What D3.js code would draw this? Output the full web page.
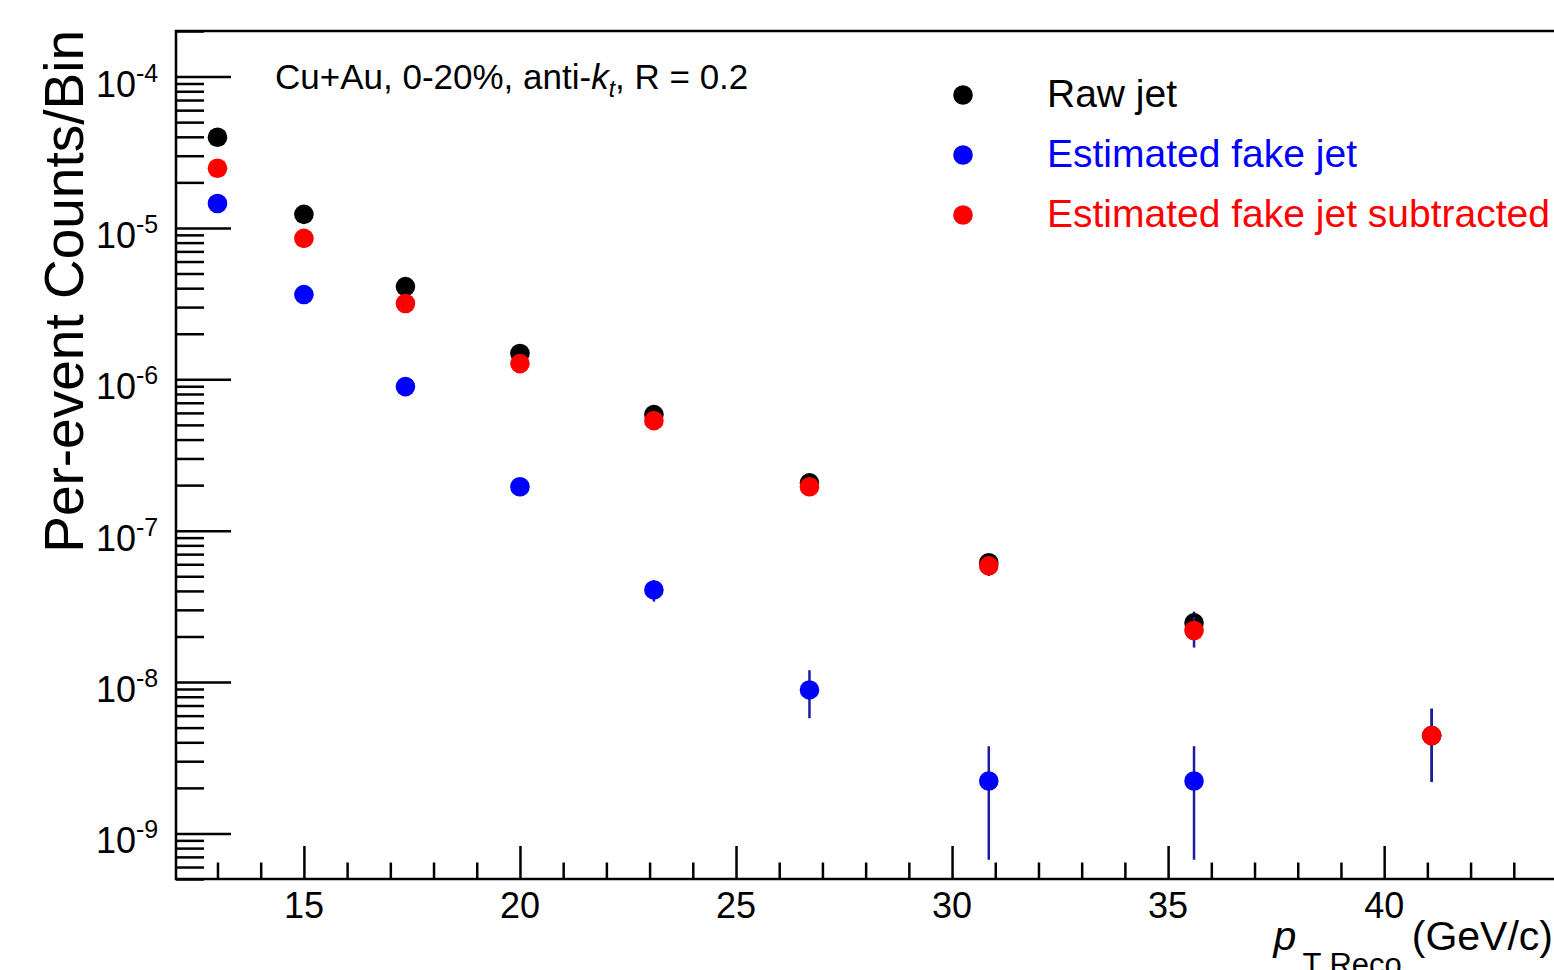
<!DOCTYPE html>
<html>
<head>
<meta charset="utf-8">
<script src="https://cdn.jsdelivr.net/npm/d3@7"></script>
<style>
  html, body { margin: 0; padding: 0; background: #fff; overflow: hidden; }
  svg { display: block; font-family: "Liberation Sans", Arial, Helvetica, sans-serif; }
</style>
</head>
<body>
<div id="chart"></div>
<script>
// bin centres (GeV/c)
const ptBins = [13.0, 15.0, 17.35, 20.0, 23.1, 26.7, 30.85, 35.6, 41.1];

// per-event counts / bin
const rawJet = [3.97e-5, 1.23e-5, 4.10e-6, 1.48e-6, 5.85e-7, 2.07e-7, 6.14e-8, 2.46e-8, 4.43e-9];
const rawJetErr = [0, 0, 0, 0, 0, 0, 8e-9, 4.6e-9, 2.24e-9];

const fakeJet = [1.45e-5, 3.63e-6, 8.95e-7, 1.95e-7, 4.06e-8, 8.87e-9, 2.22e-9, 2.22e-9];
const fakeJetErr = [0, 0, 0, 0, 6.6e-9, 3.1e-9, 1.55e-9, 1.55e-9];

const subJet = [2.48e-5, 8.53e-6, 3.17e-6, 1.27e-6, 5.33e-7, 1.95e-7, 5.86e-8, 2.19e-8, 4.43e-9];
const subJetErr = [0, 0, 0, 0, 0, 0, 8.4e-9, 5.0e-9, 2.24e-9];

const seriesNames = ["Raw jet", "Estimated fake jet", "Estimated fake jet subtracted"];
const seriesColors = ["#000000", "#0000ff", "#ff0000"];

const yMajorExp = [-9, -8, -7, -6, -5, -4];
const xMajorTicks = [15, 20, 25, 30, 35, 40];

const W = 1554, H = 970;
const frame = { left: 176, top: 31, right: 1557, bottom: 879 };

const svg = d3.select("#chart").append("svg")
  .attr("width", W).attr("height", H);

const x = d3.scaleLinear().domain([12.04, 44]).range([frame.left, frame.right]);
const y = d3.scaleLog().domain([5e-10, 2e-4]).range([frame.bottom, frame.top]);

// minor ticks
const xMinor = d3.range(13, 45).filter(v => v % 5 !== 0);
const yMinor = [];
for (let e = -10; e <= -4; e++) {
  for (let m = 2; m <= 9; m++) {
    const v = m * Math.pow(10, e);
    if (v >= 5e-10 && v <= 2e-4) yMinor.push(v);
  }
}
const yMajor = yMajorExp.map(e => Math.pow(10, e));

function styleAxis(g) {
  g.select(".domain").remove();
  g.selectAll(".tick line").attr("stroke", "#000").attr("stroke-width", 2.5);
  g.selectAll(".tick text").remove();
}

svg.append("g").attr("transform", `translate(${frame.left},0)`)
  .call(d3.axisLeft(y).tickValues(yMajor).tickSize(-55).tickSizeOuter(0).tickFormat(""))
  .call(styleAxis);
svg.append("g").attr("transform", `translate(${frame.left},0)`)
  .call(d3.axisLeft(y).tickValues(yMinor).tickSize(-28).tickSizeOuter(0).tickFormat(""))
  .call(styleAxis);
svg.append("g").attr("transform", `translate(0,${frame.bottom})`)
  .call(d3.axisBottom(x).tickValues(xMajorTicks).tickSize(-33).tickSizeOuter(0).tickFormat(""))
  .call(styleAxis);
svg.append("g").attr("transform", `translate(0,${frame.bottom})`)
  .call(d3.axisBottom(x).tickValues(xMinor).tickSize(-16.5).tickSizeOuter(0).tickFormat(""))
  .call(styleAxis);

// frame
svg.append("rect")
  .attr("x", frame.left).attr("y", frame.top)
  .attr("width", frame.right - frame.left).attr("height", frame.bottom - frame.top)
  .attr("fill", "none").attr("stroke", "#000").attr("stroke-width", 2.5);

// y tick labels 10^n
yMajorExp.forEach(e => {
  const t = svg.append("text")
    .attr("x", 96).attr("y", y(Math.pow(10, e)) + 20)
    .attr("font-size", 36).attr("fill", "#000");
  t.append("tspan").text("10");
  t.append("tspan").attr("font-size", 25).attr("dy", -15).text(e);
});

// x tick labels
svg.selectAll(".xlab").data(xMajorTicks).join("text")
  .attr("class", "xlab")
  .attr("x", d => x(d)).attr("y", 918)
  .attr("text-anchor", "middle")
  .attr("font-size", 36)
  .text(d => d);

// axis titles
svg.append("text")
  .attr("transform", "translate(83,30) rotate(-90)")
  .attr("text-anchor", "end")
  .attr("font-size", 55)
  .text("Per-event Counts/Bin");

const xt = svg.append("text")
  .attr("x", 1553).attr("y", 950)
  .attr("text-anchor", "end")
  .attr("font-size", 41);
xt.append("tspan").attr("font-style", "italic").text("p");
xt.append("tspan").attr("font-size", 31).attr("dy", 25).attr("dx", 6).text("T Reco");
xt.append("tspan").attr("dy", -25).attr("dx", 10).text("(GeV/c)");

// annotation
const an = svg.append("text")
  .attr("x", 275).attr("y", 89)
  .attr("font-size", 35);
an.append("tspan").text("Cu+Au, 0-20%, anti-");
an.append("tspan").attr("font-style", "italic").text("k");
an.append("tspan").attr("font-style", "italic").attr("font-size", 23).attr("dy", 8).text("t");
an.append("tspan").attr("dy", -8).text(", R = 0.2");

// series
const series = [
  { name: seriesNames[0], color: seriesColors[0], vals: rawJet, errs: rawJetErr },
  { name: seriesNames[1], color: seriesColors[1], vals: fakeJet, errs: fakeJetErr },
  { name: seriesNames[2], color: seriesColors[2], vals: subJet, errs: subJetErr }
];

const errColor = "#1c1ca0";
const r = 9.8;

series.forEach((s, si) => {
  const pts = s.vals.map((v, i) => ({ x: ptBins[i], v: v, e: s.errs[i] }));
  const g = svg.append("g").attr("class", "series-" + si);
  g.selectAll("line").data(pts.filter(d => d.e > 0)).join("line")
    .attr("x1", d => x(d.x)).attr("x2", d => x(d.x))
    .attr("y1", d => y(d.v + d.e))
    .attr("y2", d => y(Math.max(d.v - d.e, 5e-10)))
    .attr("stroke", errColor).attr("stroke-width", 2.5);
  g.selectAll("circle").data(pts).join("circle")
    .attr("cx", d => x(d.x)).attr("cy", d => y(d.v))
    .attr("r", r).attr("fill", s.color);
});

// legend
const legend = svg.append("g");
series.forEach((s, i) => {
  const ly = 95 + i * 60;
  legend.append("circle").attr("cx", 963).attr("cy", ly).attr("r", r).attr("fill", s.color);
  legend.append("text").attr("x", 1047).attr("y", ly + 12)
    .attr("font-size", 39).attr("fill", s.color).text(s.name);
});
</script>
</body>
</html>
